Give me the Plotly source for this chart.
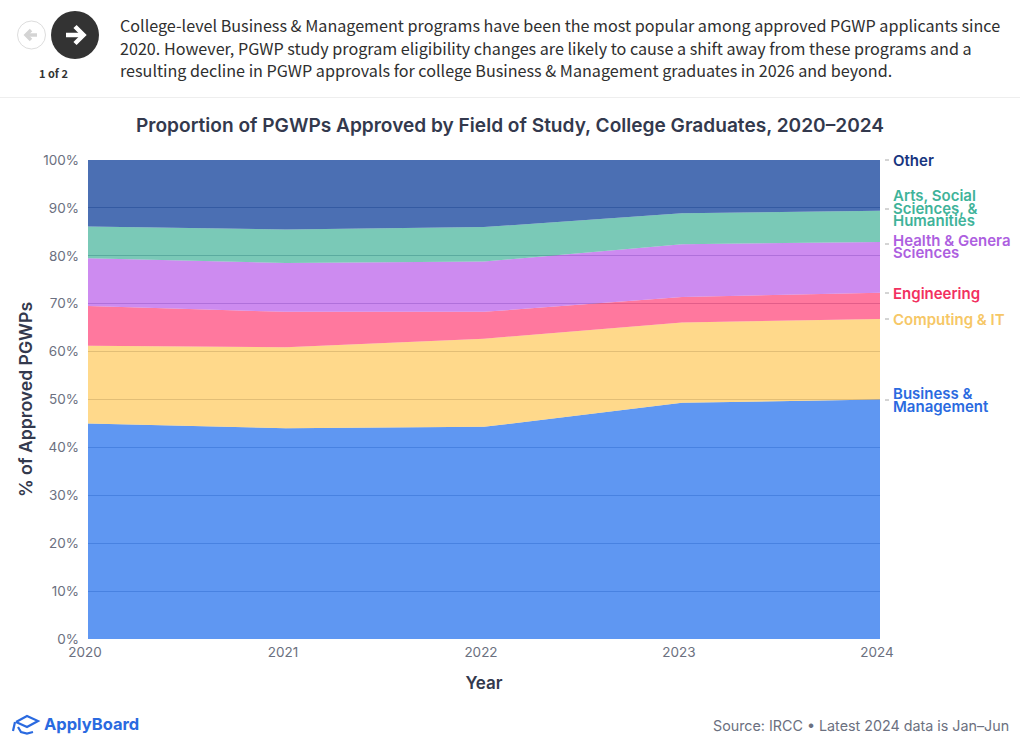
import plotly.graph_objects as go

years = [2020, 2021, 2022, 2023, 2024]
business = [45.0, 44.0, 44.3, 49.3, 50.0]
computing = [16.2, 16.9, 18.4, 16.8, 16.8]
engineering = [8.3, 7.4, 5.6, 5.3, 5.5]
health = [10.0, 10.2, 10.5, 11.0, 10.6]
arts = [6.6, 7.0, 7.2, 6.5, 6.5]
other = [13.9, 14.5, 14.0, 11.1, 10.6]

series_names = ["Business & Management", "Computing & IT", "Engineering",
                "Health & General Sciences", "Arts, Social Sciences, & Humanities", "Other"]
series_values = [business, computing, engineering, health, arts, other]
fill_colors = ["rgba(55,125,239,0.8)", "rgba(255,204,100,0.75)", "rgba(255,75,125,0.75)",
               "rgba(188,100,235,0.75)", "rgba(70,180,155,0.72)", "rgba(30,75,160,0.8)"]

header_lines = [
    "College-level Business & Management programs have been the most popular among approved PGWP applicants since",
    "2020. However, PGWP study program eligibility changes are likely to cause a shift away from these programs and a",
    "resulting decline in PGWP approvals for college Business & Management graduates in 2026 and beyond.",
]
# text line, its pixel row, colour
label_lines = [
    ("Other", 160, "#17357f"),
    ("Arts, Social", 196, "#3fb39a"), ("Sciences, &", 208, "#3fb39a"), ("Humanities", 220, "#3fb39a"),
    ("Health & Genera", 240, "#ad5fe0"), ("Sciences", 252, "#ad5fe0"),
    ("Engineering", 293, "#f2305f"),
    ("Computing & IT", 319, "#f6c766"),
    ("Business &", 393, "#2a6ae0"), ("Management", 406, "#2a6ae0"),
]
tick_rows = [160, 209, 244, 293, 319, 400]

L, R, T, B = 88, 880, 160, 639
W, H = 1020, 748
px = lambda x: (x - L) / (R - L)
py = lambda y: (B - y) / (B - T)
CHART = "Inter"
BODY = "Noto Sans CJK SC"

fig = go.Figure()
for name, vals, col in zip(series_names, series_values, fill_colors):
    fig.add_trace(go.Scatter(x=years, y=vals, name=name, mode="none", stackgroup="one",
                             fillcolor=col, hoverinfo="skip"))

ann = []
def text(x, y, s, size, color, font=CHART, weight=400, anchor="left"):
    ann.append(dict(x=px(x), y=py(y), xref="paper", yref="paper", text=s, showarrow=False,
                    xanchor=anchor, yanchor="middle", xshift=0, borderpad=0, borderwidth=0,
                    font=dict(family=font, size=size, color=color, weight=weight)))

for i, s in enumerate(header_lines):
    text(120, 24.5 + 23 * i, s, 16.15, "#2f2f2f", BODY)
text(53, 73.5, "1 of 2", 11, "#333333", BODY, 700, "center")
text(510, 125, "Proportion of PGWPs Approved by Field of Study, College Graduates, 2020–2024",
     19.1, "#33394d", CHART, 600, "center")
for s, y, c in label_lines:
    text(892.5, y, s, 15, c, CHART, 600)
text(1009, 726, "Source: IRCC • Latest 2024 data is Jan–Jun", 14.3, "#6b7080", CHART, 400, "right")
text(44, 724, "ApplyBoard", 16.5, "#2a6ae0", CHART, 700)

def line(x0, y0, x1, y1, color, width=1):
    return dict(type="line", xref="paper", yref="paper", x0=px(x0), x1=px(x1), y0=py(y0), y1=py(y1),
                line=dict(color=color, width=width))

def circle(cx, cy, r, fill, border, width=1):
    return dict(type="circle", xref="paper", yref="paper", x0=px(cx - r), x1=px(cx + r),
                y0=py(cy + r), y1=py(cy - r), fillcolor=fill, line=dict(color=border, width=width))

def path(points, color, width, fill="rgba(0,0,0,0)"):
    d = "M" + " L".join(f"{px(x):.5f},{py(y):.5f}" for x, y in points)
    return dict(type="path", xref="paper", yref="paper", path=d, fillcolor=fill,
                line=dict(color=color, width=width))

shapes = [line(0, 97.5, W, 97.5, "#eeeeee", 1)]
shapes += [line(885, y, 889, y, "#aaaaaa", 1) for y in tick_rows]
shapes += [
    circle(31.5, 35, 14, "#ffffff", "#dddddd", 1),
    path([(26, 35), (37, 35)], "#d4d4d4", 3.5),
    path([(31, 30), (26, 35), (31, 40)], "#d4d4d4", 3.5),
    circle(75, 35, 24, "#333333", "#333333", 0),
    path([(66, 35), (83, 35)], "#ffffff", 4.5),
    path([(75, 26.5), (83.5, 35), (75, 43.5)], "#ffffff", 4.5),
    # logo: graduation cap
    path([(16, 722), (27, 716), (38, 721), (27, 727), (16, 722)], "#2a6ae0", 2.2),
    path([(18, 727), (21, 732), (27, 733.5), (33, 732)], "#2a6ae0", 2.2),
    path([(15, 722), (13, 731)], "#2a6ae0", 2.2),
]

fig.update_layout(
    width=W, height=H, autosize=False, showlegend=False,
    margin=dict(l=L, r=W - R, t=T, b=H - B),
    paper_bgcolor="#ffffff", plot_bgcolor="#ffffff",
    font=dict(family=CHART, color="#6b7080", size=14),
    annotations=ann, shapes=shapes,
    xaxis=dict(range=[2020, 2024], tickvals=years, ticktext=[str(y) for y in years],
               showgrid=False, zeroline=False, showline=False, ticks="", ticklabelshift=-3,
               ticklabelstandoff=3,
               tickfont=dict(size=13.5, color="#6b7080"),
               title=dict(text="Year", standoff=18, font=dict(size=17, color="#33394d", weight=600))),
    yaxis=dict(range=[0, 100], tickvals=list(range(0, 101, 10)),
               ticktext=[f"{v}%" for v in range(0, 101, 10)],
               showgrid=True, gridcolor="rgba(28,42,85,0.5)", gridwidth=1, zeroline=False, showline=False,
               ticks="", ticklabelstandoff=8,
               tickfont=dict(size=13.5, color="#6b7080"),
               title=dict(text="% of Approved PGWPs", standoff=6, font=dict(size=17.6, color="#33394d", weight=600))),
)
fig.write_html("out.html", post_script="document.body.style.margin='0';document.body.style.overflow='hidden';",
               config=dict(displayModeBar=False))
